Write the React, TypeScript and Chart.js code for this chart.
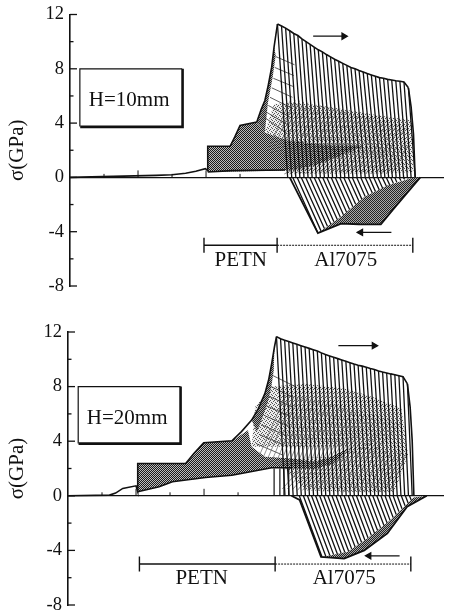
import React, { useEffect, useRef } from "react";
import { Chart, registerables } from "chart.js";

Chart.register(...registerables);

const INK = "#111111";
const SERIF = "'Liberation Serif', serif";

// ---------- shared scale values ----------
const yTickValues = [12, 10, 8, 6, 4, 2, 0, -2, -4, -6, -8];
const xTickValues = [10, 20, 30, 40, 50];
const xTallTicks = [20, 40];

// ---------- H=10mm panel ----------
const a_crestX = [61, 62.2, 63.4, 64.6, 65.8, 67, 68.2, 69.4, 70.6, 71.8, 73, 74.2, 75.4, 76.6, 77.8, 79, 80.2, 81.4, 82.6, 83.8, 85, 86.2, 87.4, 88.6, 89.8, 91, 92.2, 93.4, 94.6, 95.8, 97, 98.2, 99.5];
const a_crestY = [11.3, 11.15, 11, 10.8, 10.6, 10.45, 10.2, 10, 9.8, 9.6, 9.4, 9.25, 9.05, 8.88, 8.7, 8.55, 8.4, 8.25, 8.1, 8, 7.87, 7.77, 7.65, 7.55, 7.45, 7.35, 7.3, 7.22, 7.18, 7.12, 7.08, 7.03, 6.6];
const a_footX = [64, 65.2, 66.4, 67.6, 68.8, 70, 71.2, 72.4, 73.6, 74.8, 76, 77.2, 78.4, 79.6, 80.8, 82, 83.2, 84.4, 85.6, 86.8, 88, 89.2, 90.4, 91.5, 92.6, 93.7, 94.8, 95.9, 97, 98.1, 99.2, 100.3, 101.5];
const a_negTopX = [65.5, 66.8, 68, 69.3, 70.5, 71.8, 73, 74.3, 75.5, 76.8, 78, 79.3, 80.5, 81.8, 83, 84.3, 85.5, 86.8, 88, 89.3, 90.5, 91.8, 93, 94.3, 95.5, 96.8, 98, 99.3];
const a_negEndX = [72.9, 73.8, 74.8, 75.7, 76.7, 77.6, 78.6, 79.5, 80.4, 81.3, 82.2, 83.15, 84, 85, 85.8, 86.8, 87.8, 88.9, 89.8, 90.9, 91.9, 93, 94, 95.1, 96.1, 97.3, 98.4, 99.5];
const a_negEndY = [-4.1, -3.94, -3.77, -3.6, -3.44, -3.27, -3.1, -2.94, -2.75, -2.55, -2.37, -2.17, -1.98, -1.78, -1.6, -1.41, -1.29, -1.15, -1.03, -0.9, -0.78, -0.64, -0.55, -0.45, -0.35, -0.25, -0.15, -0.08];
const a_tailX0 = [65, 66.2, 67.5, 68.7, 70, 71.2, 72.5, 73.7, 75, 76.2, 77.5, 78.7, 80, 81.2, 82.5, 83.7, 85, 86.2, 87.5, 88.7, 90, 91.2, 92.5, 93.7, 95, 96.2, 97.5, 98.7];
const a_tailY0 = [5.8, 5.7, 5.65, 5.55, 5.5, 5.4, 5.35, 5.3, 5.2, 5.15, 5.05, 5, 4.9, 4.85, 4.75, 4.7, 4.6, 4.55, 4.45, 4.4, 4.3, 4.2, 4.15, 4.05, 3.95, 3.85, 3.75, 3.65];
const a_tailX1 = [58, 59.2, 60.5, 61.7, 63, 64.2, 65.5, 66.7, 68, 69.2, 70.5, 71.7, 73, 74.2, 75.5, 76.7, 78, 79.2, 80.5, 81.7, 83, 84.2, 85.5, 86.7, 88, 89.2, 90.5, 91.7];
const a_tailY1 = [1.9, 1.8, 1.75, 1.7, 1.6, 1.6, 1.5, 1.5, 1.45, 1.4, 1.45, 1.5, 1.6, 1.7, 1.75, 1.85, 1.95, 2, 2, 1.95, 1.9, 1.8, 1.75, 1.7, 1.6, 1.5, 1.45, 1.4];
const a_meshX0 = [68, 69.5, 71, 72.5, 74, 75.5, 77, 78.5, 80, 81.5, 83, 84.5, 86, 87.5, 89, 90.5, 92, 93.5, 95, 96.5, 98, 99.5];
const a_meshY0 = [0.9, 1, 1.1, 1.2, 1.4, 1.5, 1.7, 1.8, 2, 2.1, 2.2, 2.3, 2.3, 2.3, 2.3, 2.4, 2.4, 2.4, 2.4, 2.4, 2.4, 2.4];
const a_meshX1 = [63, 64.5, 66, 67.5, 69, 70.5, 72, 73.5, 75, 76.5, 78, 79.5, 81, 82.5, 84, 85.5, 87, 88.5, 90, 91.5, 93, 94.5];
const a_meshY1 = [0.25, 0.25, 0.25, 0.25, 0.25, 0.25, 0.25, 0.25, 0.25, 0.25, 0.25, 0.25, 0.25, 0.25, 0.25, 0.25, 0.25, 0.25, 0.25, 0.25, 0.25, 0.25];
const a_fanX0 = [57.3, 57.8, 58.3, 58.8, 59.3, 59.8, 60.2, 60.5];
const a_fanY0 = [4.4, 4.8, 5.3, 5.9, 6.6, 7.3, 8.1, 8.9];
const a_fanX1 = [64, 64.5, 65, 65.2, 65.4, 65.6, 65.8, 66];
const a_fanY1 = [3.2, 3.8, 4.4, 5.1, 5.9, 6.7, 7.5, 8.3];
const a_riseX = [0, 25.3, 30, 34, 37, 39.8, 40.5, 40.5, 47.1, 48.5, 50, 54.9, 56.2, 57.3, 58.3, 59.3, 60, 61];
const a_riseY = [0, 0.15, 0.2, 0.3, 0.45, 0.64, 0.5, 2.3, 2.3, 3, 3.83, 4.07, 5, 5.67, 6.8, 8.12, 9.6, 11.3];
const a_wallX = [99.5, 100.3, 101, 101.5];
const a_wallY = [6.6, 5.2, 3.2, 0];
const a_lowerX = [40.5, 47.6, 63.2];
const a_lowerY = [0.4, 0.5, 0.55];
const a_negX = [64.6, 72.9, 79.7, 85, 91.4, 95.2, 103];
const a_negY = [0, -4.1, -3.4, -3.45, -3.46, -2.3, 0];
const a_darkX = [40.5, 47.1, 50, 54.9, 57.3, 64.1, 76.8, 86.5, 78.7, 71.9, 64.1, 40.5, 40.5];
const a_darkY = [2.3, 2.3, 3.83, 4.07, 3.3, 2.7, 2.35, 2.35, 1.5, 0.88, 0.5, 0.4, 2.3];
const a_flankX = [54.9, 56.2, 57.3, 58.3, 59.3, 60, 60.5, 59.6, 58.2, 57.3, 54.9];
const a_flankY = [4.07, 5, 5.67, 6.8, 8.12, 9.6, 9, 7.4, 5.5, 3.3, 4.07];
const a_lightX = [60, 66, 76, 90, 100.5, 101, 92, 64, 57.3, 60];
const a_lightY = [5.4, 5.5, 5.2, 4.6, 4.2, 0.4, 0.3, 0.3, 3.3, 5.4];
const a_wedgeX = [72.9, 79.7, 86.5, 93.3, 101, 103, 95.2, 91.4, 85, 79.7, 72.9];
const a_wedgeY = [-4.1, -2.9, -1.45, -0.6, 0, 0, -2.3, -3.46, -3.45, -3.4, -4.1];
const a_petnX = [39.4, 60.9];
const a_alX = [60.9, 100.8];
const a_arrowUpX = [71.5, 80.5];
const a_arrowUpY = [10.4, 10.4];
const a_arrowDownX = [94.5, 85.5];
const a_arrowDownY = [-4.05, -4.05];
const a_boxX = [2.9, 2.9, 33];
const a_boxY = [3.75, 8, 8];
const a_shadowX = [3, 33.1, 33.1];
const a_shadowY = [3.72, 3.72, 8];

// ---------- H=20mm panel ----------
const b_crestX = [61.3, 62.5, 63.7, 64.9, 66.1, 67.3, 68.5, 69.7, 70.9, 72.1, 73.3, 74.5, 75.7, 76.9, 78.1, 79.3, 80.5, 81.7, 82.9, 84.1, 85.3, 86.5, 87.7, 88.9, 90.1, 91.3, 92.5, 93.7, 94.9, 96.1, 97.3, 98.5, 99.8];
const b_crestY = [11.66, 11.5, 11.4, 11.3, 11.2, 11.1, 11, 10.9, 10.8, 10.7, 10.6, 10.47, 10.35, 10.25, 10.15, 10.05, 9.95, 9.85, 9.75, 9.65, 9.57, 9.5, 9.42, 9.33, 9.25, 9.15, 9.07, 9, 8.93, 8.87, 8.8, 8.73, 8.2];
const b_footX = [63.8, 65, 66.2, 67.4, 68.6, 69.8, 71, 72.2, 73.4, 74.6, 75.8, 77, 78.2, 79.4, 80.6, 81.8, 83, 84.2, 85.4, 86.6, 87.8, 89, 90.2, 91.3, 92.4, 93.5, 94.6, 95.7, 96.8, 97.9, 99, 100.1, 101.2];
const b_negTopX = [68, 69.2, 70.4, 71.6, 72.8, 74, 75.2, 76.4, 77.6, 78.8, 80, 81.2, 82.4, 83.6, 84.8, 86, 87.2, 88.4, 89.6, 90.8, 92, 93.2, 94.4, 95.6, 96.8, 98, 99.2, 100.4];
const b_negEndX = [74.7, 75.8, 77, 78.1, 79.2, 80.3, 81.4, 82.5, 83.4, 84.4, 85.4, 86.3, 87.3, 88.2, 89.2, 90.1, 91, 91.9, 92.9, 93.8, 94.7, 95.6, 96.5, 97.3, 98.2, 99.1, 100, 100.9];
const b_negEndY = [-4.48, -4.43, -4.37, -4.31, -4.26, -4.2, -4.14, -4.05, -3.89, -3.73, -3.57, -3.41, -3.25, -3.08, -2.9, -2.72, -2.53, -2.35, -2.17, -1.98, -1.8, -1.59, -1.37, -1.16, -0.95, -0.73, -0.52, -0.3];
const b_tailX0 = [64, 65.2, 66.5, 67.7, 69, 70.2, 71.5, 72.7, 74, 75.2, 76.5, 77.7, 79, 80.2, 81.5, 82.7, 84, 85.2, 86.5, 87.7, 89, 90.2, 91.5, 92.7, 94, 95.2, 96.5, 97.7];
const b_tailY0 = [7.4, 7.35, 7.3, 7.25, 7.2, 7.15, 7.1, 7.05, 7, 6.95, 6.9, 6.85, 6.8, 6.7, 6.6, 6.5, 6.4, 6.3, 6.2, 6.1, 6, 5.9, 5.8, 5.7, 5.6, 5.5, 5.4, 5.3];
const b_tailX1 = [56, 57.2, 58.5, 59.7, 61, 62.2, 63.5, 64.7, 66, 67.2, 68.5, 69.7, 71, 72.2, 73.5, 74.7, 76, 77.2, 78.5, 79.7, 81, 82.2, 83.5, 84.7, 86, 87.2, 88.5, 89.7];
const b_tailY1 = [2.8, 2.7, 2.6, 2.4, 2.3, 2.2, 2.2, 2.2, 2.2, 2.2, 2.2, 2.2, 2.3, 2.3, 2.4, 2.5, 2.6, 2.8, 3, 3.2, 3.4, 3.5, 3.5, 3.5, 3.4, 3.4, 3.3, 3.2];
const b_meshX0 = [68, 69.5, 71, 72.5, 74, 75.5, 77, 78.5, 80, 81.5, 83, 84.5, 86, 87.5, 89, 90.5, 92, 93.5, 95, 96.5, 98, 99.5];
const b_meshY0 = [1.9, 1.9, 1.9, 2, 2.1, 2.2, 2.4, 2.6, 2.9, 3.2, 3.4, 3.5, 3.5, 3.5, 3.5, 3.4, 3.4, 3.3, 3.3, 3.2, 3.2, 3.1];
const b_meshX1 = [63, 64.5, 66, 67.5, 69, 70.5, 72, 73.5, 75, 76.5, 78, 79.5, 81, 82.5, 84, 85.5, 87, 88.5, 90, 91.5, 93, 94.5];
const b_meshY1 = [0.5, 0.5, 0.45, 0.4, 0.4, 0.4, 0.35, 0.35, 0.3, 0.3, 0.3, 0.3, 0.25, 0.25, 0.25, 0.25, 0.25, 0.25, 0.25, 0.25, 0.25, 0.25];
const b_fanX0 = [55.5, 56.2, 56.9, 57.6, 58.3, 59, 59.7, 60.3];
const b_fanY0 = [3.8, 4.5, 5.2, 5.9, 6.6, 7.3, 8, 8.8];
const b_fanX1 = [63, 63.6, 64.2, 64.8, 65.4, 66, 66.4, 66.8];
const b_fanY1 = [3, 3.7, 4.4, 5.1, 5.8, 6.5, 7.2, 8];
const b_stubX = [60.6, 62.3, 63.5, 64.9];
const b_stubTop = [2, 2, 2, 2];
const b_riseX = [0, 12.2, 14, 16.1, 20, 20.5, 20.5, 34.6, 37, 39.9, 48.2, 51, 54, 56, 57.9, 59, 59.9, 60.7, 61.3];
const b_riseY = [0, 0.05, 0.2, 0.54, 0.73, 0.3, 2.37, 2.37, 3.1, 3.89, 4.03, 4.7, 5.55, 6.4, 7.5, 8.5, 9.7, 10.9, 11.66];
const b_wallX = [99.8, 100.6, 101.2, 101.7];
const b_wallY = [8.2, 6.5, 4.06, 0];
const b_lowerX = [20.5, 26.8, 30.7, 40.4, 48.2, 59.9, 65.7];
const b_lowerY = [0.3, 0.66, 1.03, 1.34, 1.5, 2.05, 2.05];
const b_negX = [65.7, 68.1, 74.4, 81.2, 87.1, 93.9, 99.7, 105.5];
const b_negY = [0, -0.3, -4.47, -4.6, -4, -2.76, -0.8, 0];
const b_darkX = [20.5, 34.6, 39.9, 48.2, 52.9, 54, 57.9, 65.7, 72.5, 77.4, 83.2, 78.3, 72.5, 65.7, 59.9, 48.2, 40.4, 30.7, 26.8, 20.5, 20.5];
const b_darkY = [2.37, 2.37, 3.89, 4.03, 4.8, 3.6, 2.86, 2.74, 2.5, 2.86, 3.6, 2.37, 1.96, 2, 2.05, 1.5, 1.34, 1.03, 0.66, 0.3, 2.37];
const b_flankX = [54, 56, 57.9, 59, 59.9, 60.7, 60.5, 59.8, 58.7, 57, 55.5, 54];
const b_flankY = [5.55, 6.4, 7.5, 8.5, 9.7, 10.9, 9.2, 8, 6.8, 5.6, 4.7, 5.55];
const b_lightX = [55, 60, 70, 82.2, 90, 98, 100, 96, 84, 70, 64, 65.7, 77.4, 83.2, 54, 55];
const b_lightY = [6.5, 8, 8.2, 7.8, 7.2, 6.4, 3, 0.3, 0.3, 0.4, 1.9, 2.74, 2.86, 3.6, 3.6, 6.5];
const b_wedgeX = [74.4, 82.2, 88, 94.8, 101.6, 105.5, 99.7, 93.9, 87.1, 81.2, 74.4];
const b_wedgeY = [-4.5, -4.1, -3.13, -1.78, -0.12, 0, -0.8, -2.76, -4, -4.6, -4.5];
const b_petnX = [21, 60.9];
const b_alX = [60.9, 100.8];
const b_arrowUpX = [79.5, 90];
const b_arrowUpY = [11, 11];
const b_arrowDownX = [97.5, 88.5];
const b_arrowDownY = [-4.4, -4.4];
const b_boxX = [3, 3, 33.1];
const b_boxY = [3.84, 8, 8];
const b_shadowX = [3.1, 33.1, 33.1];
const b_shadowY = [3.82, 3.82, 8];

// ---------- brackets ----------
const bracketY = -5;
const bracketEnd = 0.55;

const pts = (xs: number[], ys: number[]) => xs.map((x, i) => ({ x, y: ys[i] }));
const seg = (xa: number[], ya: number[], xb: number[], yb: number[]) =>
  xa.flatMap((x, i) => [
    { x, y: ya[i] },
    { x: xb[i], y: yb[i] },
    { x, y: null as any },
  ]);
const zeros = (xs: number[]) => xs.map(() => 0);

const makePattern = (rows: string[], colour: string, back: string | null) => {
  const c = document.createElement("canvas");
  c.width = rows[0].length;
  c.height = rows.length;
  const g = c.getContext("2d")!;
  if (back) {
    g.fillStyle = back;
    g.fillRect(0, 0, c.width, c.height);
  }
  g.fillStyle = colour;
  rows.forEach((r, y) => [...r].forEach((ch, x) => ch === "#" && g.fillRect(x, y, 1, 1)));
  return g.createPattern(c, "repeat")!;
};

const line = (data: any[], width = 1, extra: any = {}) => ({
  data,
  showLine: true,
  borderColor: INK,
  borderWidth: width,
  pointRadius: 0,
  spanGaps: false,
  tension: 0,
  ...extra,
});

const arrow = (xs: number[], ys: number[], rotation: number) =>
  line(pts(xs, ys), 1.2, {
    pointRadius: [0, 3.6],
    pointStyle: "triangle",
    pointRotation: rotation,
    pointBackgroundColor: INK,
    pointBorderColor: INK,
  });

const buildDatasets = (s: any) => [
  line(pts(s.shadowX, s.shadowY), 2.6),
  line(pts(s.boxX, s.boxY), 1.2),
  arrow(s.arrowUpX, s.arrowUpY, 90),
  arrow(s.arrowDownX, s.arrowDownY, -90),
  line(pts(s.petnX, [bracketY, bracketY]), 1.4),
  line(pts([s.petnX[0], s.petnX[0]], [bracketY - bracketEnd, bracketY + bracketEnd]), 1.4),
  line(pts([s.petnX[1], s.petnX[1]], [bracketY - bracketEnd, bracketY + bracketEnd]), 1.4),
  line(pts(s.alX, [bracketY, bracketY]), 1, { borderDash: [2, 1] }),
  line(pts([s.alX[1], s.alX[1]], [bracketY - bracketEnd, bracketY + bracketEnd]), 1.4),
  line(pts(s.riseX, s.riseY), 1.6),
  line(pts(s.crestX, s.crestY), 1.6),
  line(pts(s.wallX, s.wallY), 1.6),
  line(pts(s.lowerX, s.lowerY), 1.6),
  line(pts(s.negX, s.negY), 1.8),
  line(seg(s.crestX, s.crestY, s.footX, zeros(s.footX)), 1.3),
  line(seg(s.negTopX, zeros(s.negTopX), s.negEndX, s.negEndY), 1.3),
  ...(s.stubX ? [line(seg(s.stubX, zeros(s.stubX), s.stubX, s.stubTop), 1.2)] : []),
  line(seg(s.tailX0, s.tailY0, s.tailX1, s.tailY1), 0.7, { borderColor: "#666666" }),
  line(seg(s.meshX0, s.meshY0, s.meshX1, s.meshY1), 0.7, { borderColor: "#666666" }),
  line(seg(s.fanX0, s.fanY0, s.fanX1, s.fanY1), 0.8, { borderColor: "#333333" }),
];

const panelPlugin = (labels: { text: string; x: number; y: number }[], s: any) => ({
  id: "panelMarks",
  beforeDatasetsDraw(chart: any) {
    const { ctx } = chart;
    const xs = chart.scales.x;
    const ys = chart.scales.y;
    const dark = makePattern(["#.", ".#"], "#1a1a1a", "#bcbcbc");
    const light = makePattern(["#...", "..#.", ".#..", "...#"], "#555555", "#ececec");
    const wedge = makePattern(["#.", ".#"], "#222222", "#a8a8a8");
    const shade = (px: number[], py: number[], fill: any) => {
      ctx.save();
      ctx.fillStyle = fill;
      ctx.beginPath();
      px.forEach((x, i) => {
        const a = xs.getPixelForValue(x);
        const b = ys.getPixelForValue(py[i]);
        if (i === 0) ctx.moveTo(a, b);
        else ctx.lineTo(a, b);
      });
      ctx.closePath();
      ctx.fill();
      ctx.restore();
    };
    shade(s.lightX, s.lightY, light);
    shade(s.darkX, s.darkY, dark);
    shade(s.flankX, s.flankY, wedge);
    shade(s.wedgeX, s.wedgeY, wedge);
  },
  afterDraw(chart: any) {
    const { ctx } = chart;
    const xs = chart.scales.x;
    const ys = chart.scales.y;
    ctx.save();
    ctx.strokeStyle = INK;
    ctx.lineWidth = 1.3;
    yTickValues.forEach((v) => {
      const py = ys.getPixelForValue(v);
      const len = v % 4 === 0 ? 7 : 3.5;
      ctx.beginPath();
      ctx.moveTo(chart.chartArea.left, py);
      ctx.lineTo(chart.chartArea.left + len, py);
      ctx.stroke();
    });
    ctx.lineWidth = 1;
    xTickValues.forEach((v) => {
      const px = xs.getPixelForValue(v);
      const py = ys.getPixelForValue(0);
      const len = xTallTicks.includes(v) ? 7 : 3.5;
      ctx.beginPath();
      ctx.moveTo(px, py);
      ctx.lineTo(px, py - len);
      ctx.stroke();
    });
    ctx.fillStyle = INK;
    ctx.font = `21px ${SERIF}`;
    ctx.textAlign = "center";
    ctx.textBaseline = "middle";
    labels.forEach((l) => ctx.fillText(l.text, xs.getPixelForValue(l.x), ys.getPixelForValue(l.y)));
    ctx.restore();
  },
});

const makeChart = (canvas: HTMLCanvasElement, cfg: any) =>
  new Chart(canvas, {
    type: "scatter",
    data: { datasets: buildDatasets(cfg.series) as any },
    plugins: [panelPlugin(cfg.labels, cfg.series)],
    options: {
      animation: false,
      responsive: false,
      layout: { padding: { top: cfg.top, bottom: cfg.bottom, left: 0, right: 2 } },
      plugins: { legend: { display: false }, tooltip: { enabled: false } },
      scales: {
        x: {
          type: "linear",
          min: 0,
          max: (447 - cfg.axisX) / 3.43,
          position: { y: 0 } as any,
          afterFit: (s: any) => {
            s.paddingLeft = 0;
            s.paddingRight = 0;
          },
          ticks: { display: false },
          grid: { display: false },
          border: { display: true, color: INK, width: 1.3 },
        },
        y: {
          type: "linear",
          min: -8,
          max: 12,
          afterFit: (s: any) => {
            s.width = cfg.axisX;
            s.paddingTop = 0;
            s.paddingBottom = 0;
          },
          afterBuildTicks: (s: any) => {
            s.ticks = yTickValues.map((value) => ({ value }));
          },
          ticks: {
            color: INK,
            padding: 6,
            autoSkip: false,
            maxRotation: 0,
            font: { family: SERIF, size: 18.5 },
            callback: (v: any) => (Number(v) % 4 === 0 ? String(v) : ""),
          },
          grid: { display: false, drawTicks: false },
          border: { display: true, color: INK, width: 1.6 },
          title: {
            display: true,
            text: "σ(GPa)",
            color: INK,
            font: { family: SERIF, size: 21 },
            padding: { top: 5, bottom: 0 },
          },
        },
      },
    } as any,
  });

const seriesA = {
  crestX: a_crestX, crestY: a_crestY, footX: a_footX, negTopX: a_negTopX, negEndX: a_negEndX, negEndY: a_negEndY,
  tailX0: a_tailX0, tailY0: a_tailY0, tailX1: a_tailX1, tailY1: a_tailY1, meshX0: a_meshX0, meshY0: a_meshY0, meshX1: a_meshX1, meshY1: a_meshY1,
  fanX0: a_fanX0, fanY0: a_fanY0, fanX1: a_fanX1, fanY1: a_fanY1,
  riseX: a_riseX, riseY: a_riseY, wallX: a_wallX, wallY: a_wallY, lowerX: a_lowerX, lowerY: a_lowerY, negX: a_negX, negY: a_negY,
  darkX: a_darkX, darkY: a_darkY, flankX: a_flankX, flankY: a_flankY, lightX: a_lightX, lightY: a_lightY, wedgeX: a_wedgeX, wedgeY: a_wedgeY,
  petnX: a_petnX, alX: a_alX, arrowUpX: a_arrowUpX, arrowUpY: a_arrowUpY, arrowDownX: a_arrowDownX, arrowDownY: a_arrowDownY,
  boxX: a_boxX, boxY: a_boxY, shadowX: a_shadowX, shadowY: a_shadowY,
};
const seriesB = {
  crestX: b_crestX, crestY: b_crestY, footX: b_footX, negTopX: b_negTopX, negEndX: b_negEndX, negEndY: b_negEndY,
  tailX0: b_tailX0, tailY0: b_tailY0, tailX1: b_tailX1, tailY1: b_tailY1, meshX0: b_meshX0, meshY0: b_meshY0, meshX1: b_meshX1, meshY1: b_meshY1,
  fanX0: b_fanX0, fanY0: b_fanY0, fanX1: b_fanX1, fanY1: b_fanY1,
  stubX: b_stubX, stubTop: b_stubTop,
  riseX: b_riseX, riseY: b_riseY, wallX: b_wallX, wallY: b_wallY, lowerX: b_lowerX, lowerY: b_lowerY, negX: b_negX, negY: b_negY,
  darkX: b_darkX, darkY: b_darkY, flankX: b_flankX, flankY: b_flankY, lightX: b_lightX, lightY: b_lightY, wedgeX: b_wedgeX, wedgeY: b_wedgeY,
  petnX: b_petnX, alX: b_alX, arrowUpX: b_arrowUpX, arrowUpY: b_arrowUpY, arrowDownX: b_arrowDownX, arrowDownY: b_arrowDownY,
  boxX: b_boxX, boxY: b_boxY, shadowX: b_shadowX, shadowY: b_shadowY,
};

const configA = {
  series: seriesA,
  axisX: 70,
  top: 14.5,
  bottom: 21,
  labels: [
    { text: "H=10mm", x: 17.4, y: 5.7 },
    { text: "PETN", x: 50.2, y: -6.1 },
    { text: "Al7075", x: 81.1, y: -6.1 },
  ],
};
const configB = {
  series: seriesB,
  axisX: 68,
  top: 25,
  bottom: 9,
  labels: [
    { text: "H=20mm", x: 17.4, y: 5.7 },
    { text: "PETN", x: 39.3, y: -6.06 },
    { text: "Al7075", x: 81.2, y: -6.06 },
  ],
};

export default function App() {
  const refA = useRef<HTMLCanvasElement>(null);
  const refB = useRef<HTMLCanvasElement>(null);
  useEffect(() => {
    const a = makeChart(refA.current!, configA);
    const b = makeChart(refB.current!, configB);
    return () => {
      a.destroy();
      b.destroy();
    };
  }, []);
  return (
    <div style={{ position: "absolute", left: 0, top: 0, width: 449, height: 614, background: "#fff" }}>
      <canvas ref={refA} width={449} height={307} style={{ position: "absolute", left: 0, top: 0 }} />
      <canvas ref={refB} width={449} height={307} style={{ position: "absolute", left: 0, top: 307 }} />
    </div>
  );
}
